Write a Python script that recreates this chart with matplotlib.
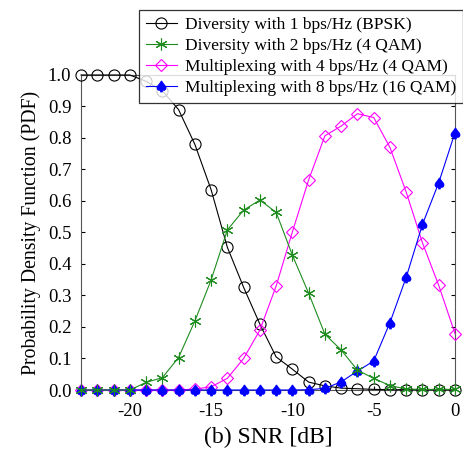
import numpy as np
import matplotlib.pyplot as plt

plt.rcParams['font.family'] = ['Liberation Serif', 'DejaVu Sans']
plt.rcParams['mathtext.fontset'] = 'dejavusans'

snr = np.arange(-23, 1)

bpsk = [1.0, 1.0, 1.0, 1.0, 0.98, 0.95, 0.89, 0.78, 0.636, 0.453, 0.326, 0.209,
        0.105, 0.066, 0.025, 0.013, 0.006, 0.004, 0.002, 0.001, 0.001, 0.001, 0.001, 0.001]
qam4_div = [0.0, 0.0, 0.0, 0.0, 0.024, 0.039, 0.103, 0.219, 0.349, 0.508, 0.571, 0.603,
            0.564, 0.428, 0.307, 0.177, 0.127, 0.063, 0.037, 0.014, 0.003, 0.002, 0.002, 0.002]
qam4_mux = [0.0, 0.0, 0.0, 0.0, 0.0, 0.0, 0.0, 0.003, 0.01, 0.037, 0.1, 0.19,
            0.33, 0.502, 0.667, 0.807, 0.838, 0.877, 0.865, 0.77, 0.628, 0.467, 0.332, 0.179]
qam16_mux = [0.0, 0.0, 0.0, 0.0, 0.0, 0.0, 0.0, 0.0, 0.0, 0.0, 0.0, 0.0,
             0.0, 0.0, 0.001, 0.005, 0.026, 0.06, 0.092, 0.214, 0.358, 0.526, 0.658, 0.817]

labels = ['Diversity with 1 bps/Hz (BPSK)',
          'Diversity with 2 bps/Hz (4 QAM)',
          'Multiplexing with 4 bps/Hz (4 QAM)',
          'Multiplexing with 8 bps/Hz (16 QAM)']

fig = plt.figure(figsize=(4.64, 4.49), dpi=100)
ax = fig.add_axes([0.1746, 0.1314, 0.806, 0.7016])

ax.plot(snr, bpsk, '-o', color='black', lw=0.8, ms=8, mfc='none', mew=0.8,
        label=labels[0], clip_on=False, zorder=3)
ax.plot(snr, qam4_div, '-', marker=(6, 2, 0), color='#1f8c1f', lw=0.8, ms=8.5, mew=0.8,
        label=labels[1], clip_on=False, zorder=4)
ax.plot(snr, qam4_mux, '-D', color='#ff00ff', lw=0.8, ms=6, mfc='none', mew=0.8,
        label=labels[2], clip_on=False, zorder=3)
ax.plot(snr, qam16_mux, '-', marker='$\u2660$', color='#0000ff', lw=0.8, ms=7.5,
        label=labels[3], clip_on=False, zorder=3)

ax.set_xlim(-23, 0)
ax.set_ylim(0, 1.0)
ax.set_xticks([-20, -15, -10, -5, 0])
ax.set_xticklabels(['-20', '-15', '-10', '-5', '0'])
ax.set_yticks(np.arange(0, 1.01, 0.1))
ax.set_yticklabels(['%.1f' % v for v in np.arange(0, 1.01, 0.1)])
ax.tick_params(direction='in', labelsize=13.5, length=3, top=False, right=True)
ax.tick_params(axis='x', pad=9)
ax.tick_params(axis='y', pad=7)
for s in ax.spines.values():
    s.set_linewidth(0.8)
    s.set_color('#555555')

ax.set_xlabel('(b) SNR [dB]', fontsize=17, labelpad=5)
ax.set_ylabel('Probability Density Function (PDF)', fontsize=14.2, labelpad=5)

leg = ax.legend(loc='upper right', bbox_to_anchor=(0.998, 0.978), bbox_transform=fig.transFigure,
                fontsize=12.5, frameon=True, fancybox=False, handlelength=1.8,
                borderpad=0.4, labelspacing=0.28, handletextpad=0.45, borderaxespad=0)
leg.get_frame().set_edgecolor('black')
leg.get_frame().set_linewidth(0.9)
leg.set_zorder(10)

fig.savefig('out.png', dpi=100)
